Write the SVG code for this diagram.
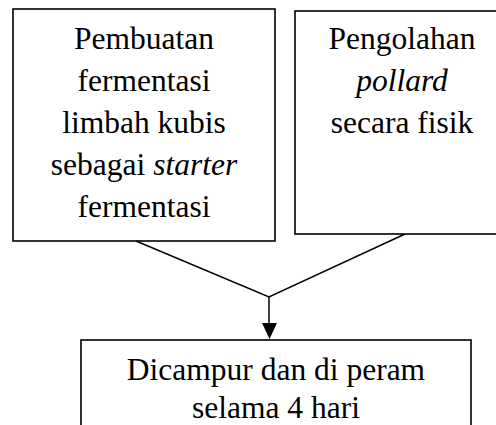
<svg xmlns="http://www.w3.org/2000/svg" width="496" height="425" viewBox="0 0 496 425">
<style>
.box{fill:#fff;stroke:#000;stroke-width:1.6}
.t{font-family:"Liberation Serif","Times New Roman",serif;font-size:31.5px;fill:#000;text-anchor:middle}
.i{font-style:italic}
.c{fill:none;stroke:#000;stroke-width:1.5}
</style>
<rect width="496" height="425" fill="#fff"/>
<g id="node1">
<rect class="box" x="13" y="9" width="262" height="232"/>
<text class="t" x="144" y="49">Pembuatan</text>
<text class="t" x="144" y="91">fermentasi</text>
<text class="t" x="144" y="133">limbah kubis</text>
<text class="t" x="144" y="175">sebagai <tspan class="i">starter</tspan></text>
<text class="t" x="144" y="217">fermentasi</text>
</g>
<g id="node2">
<rect class="box" x="295" y="11" width="210" height="223"/>
<text class="t" x="402" y="49">Pengolahan</text>
<text class="t i" x="402" y="91">pollard</text>
<text class="t" x="402" y="133">secara fisik</text>
</g>
<g id="node3">
<rect class="box" x="81" y="340" width="390" height="100"/>
<text class="t" x="276" y="380">Dicampur dan di peram</text>
<text class="t" x="276" y="418">selama 4 hari</text>
</g>
<g id="connectors">
<polyline class="c" points="136,241 269,297 405,234"/>
<line class="c" x1="269" y1="297" x2="269" y2="324" stroke-width="2"/>
<path d="M262,323 L277,323 L269.5,339 Z" fill="#000"/>
</g>
</svg>
